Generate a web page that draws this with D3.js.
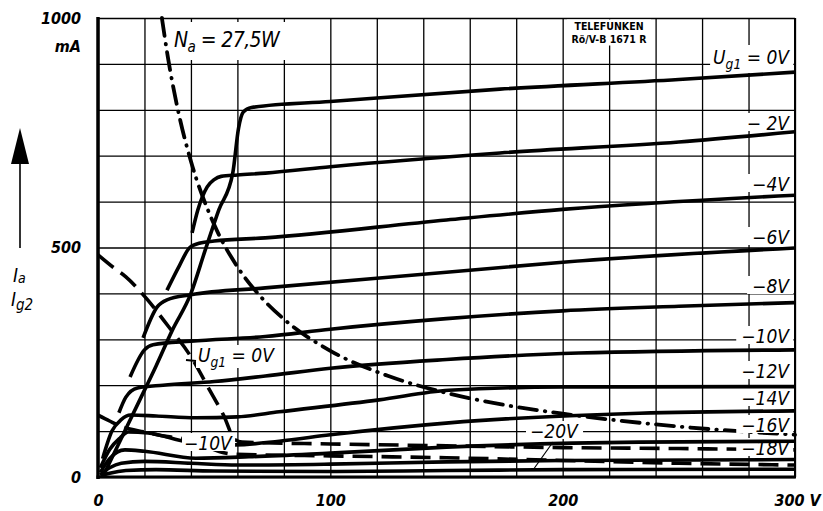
<!DOCTYPE html>
<html>
<head>
<meta charset="utf-8">
<script src="https://cdn.jsdelivr.net/npm/d3@7"></script>
<style>
  html, body { margin: 0; padding: 0; background: #fff; }
  svg { display: block; }
  text { font-family: 'DejaVu Sans Condensed', 'DejaVu Sans', sans-serif; font-style: italic; fill: #000; }
</style>
</head>
<body>
<svg id="chart" width="823" height="511"></svg>
<script>
// Ia / Ig2 = f(Ua). [Ua in V, I in mA]
const voltTicks = [0, 100, 200, 300];
const currTicks = [0, 500, 1000];

const ia0 = [[2,0],[10,84],[18,168],[25,242],[32,320],[40,400],[46,492],[52,582],[58,662],[60.5,760],[62.5,795],[66,805],[100,818],[173,845],[250,866],[300,882]];
const ia2 = [[40.5,532],[43,582],[47,632],[50,648],[53,655],[60,658],[72,662],[100,676],[173,706],[250,730],[300,752]];
const ia4 = [[29.7,407],[35,460],[39.5,500],[44,510],[50,514],[72,521],[150,560],[200,583],[300,614]];
const ia6 = [[19.4,303],[25.4,370],[29.7,386],[40,397],[72,412],[150,446],[200,468],[300,499]];
const ia8 = [[13.8,218],[20,277],[23.7,288],[40,296],[72,306],[100,322],[150,345],[200,362],[250,372],[300,380]];
const ia10 = [[9,140],[12,174],[17,194],[28,200],[50,208],[72,220],[100,237],[150,256],[207,270],[300,277]];
const ia12 = [[2,40],[6,100],[10,125],[14,135],[25,133],[42,129],[60,131],[78,142],[121,168],[151,189],[200,196],[300,197]];
const ia14 = [[1,20],[5,60],[9.5,85],[13,98],[21.5,96],[39,76],[59,70],[78,78],[100,92],[151,118],[233,139],[300,144]];
const ia16 = [[1,10],[5,40],[11.6,59],[20,56],[42,41],[65,44],[100,52],[150,65],[233,76],[300,78]];
const ia18 = [[1,5],[5,20],[10,30],[20,34],[40,30],[60,26],[100,28],[150,33],[200,36],[300,38]];
const ia20 = [[1,2],[5,8],[12,14],[25,16],[50,13],[100,12],[150,14],[200,16],[300,17]];

const ig2_0 = [[0,484],[7,455],[12,436],[21,388],[30,330],[40,262],[48,190],[54,135],[59,81],[62,76],[100,72],[150,68],[200,64],[250,62],[300,59]];
const ig2_10 = [[0,135],[5,122],[10,110],[20,98],[30,88],[36,84],[58,50],[100,46],[150,42],[200,36],[250,30],[300,26]];

// Na = 27,5 W limit
const naLimit = [[27.5,1000],[30,917],[35,786],[40,688],[50,550],[60,458],[70,393],[80,344],[100,275],[125,220],[150,183],[175,157],[200,138],[250,110],[300,92]];

const svg = d3.select("#chart");
const x = d3.scaleLinear().domain([0, 300]).range([98, 795]);
const y = d3.scaleLinear().domain([0, 1000]).range([477, 18]);

const gridG = svg.append("g");
const dashG = svg.append("g");
const maskG = svg.append("g");
const curveG = svg.append("g");
const innerMaskG = svg.append("g");
const labelG = svg.append("g");

// grid
gridG.append("g")
  .attr("transform", `translate(0,${y(0)})`)
  .call(d3.axisBottom(x).tickValues(d3.range(0, 301, 20)).tickSize(-(y(0) - y(1000))).tickFormat(""))
  .call(g => g.select(".domain").remove())
  .selectAll("line").attr("stroke", "#000").attr("stroke-width", 1.3);
gridG.append("g")
  .attr("transform", `translate(${x(0)},0)`)
  .call(d3.axisLeft(y).tickValues(d3.range(0, 1001, 100)).tickSize(-(x(300) - x(0))).tickFormat(""))
  .call(g => g.select(".domain").remove())
  .selectAll("line").attr("stroke", "#000").attr("stroke-width", 1.3);

// frame
gridG.append("line").attr("x1", x(0)).attr("x2", x(0)).attr("y1", y(1000) - 1).attr("y2", y(0) + 2)
  .attr("stroke", "#000").attr("stroke-width", 3.5);
gridG.append("line").attr("x1", x(0) - 1.5).attr("x2", x(300) + 1).attr("y1", y(0)).attr("y2", y(0))
  .attr("stroke", "#000").attr("stroke-width", 3.2);
gridG.append("line").attr("x1", x(300)).attr("x2", x(300)).attr("y1", y(1000)).attr("y2", y(0))
  .attr("stroke", "#000").attr("stroke-width", 2);

// axis labels
const xAx = svg.append("g").attr("transform", `translate(0,${y(0)})`)
  .call(d3.axisBottom(x).tickValues(voltTicks).tickSize(0).tickPadding(18)
    .tickFormat(d => d === 300 ? "300 V" : d));
xAx.select(".domain").remove();
xAx.selectAll("text").attr("font-size", 16).attr("font-weight", "bold")
  .attr("dx", d => d === 300 ? 2 : 0);

const yAx = svg.append("g").attr("transform", `translate(${x(0)},0)`)
  .call(d3.axisLeft(y).tickValues(currTicks).tickSize(0).tickPadding(17).tickFormat(d3.format("d")));
yAx.select(".domain").remove();
yAx.selectAll("text").attr("font-size", 16).attr("font-weight", "bold");

labelG.append("text").attr("x", 81).attr("y", 52).attr("text-anchor", "end")
  .attr("font-size", 16).attr("font-weight", "bold").text("mA");

// arrow + quantity
labelG.append("path").attr("d", "M20,128 L29,164 L11,164 Z").attr("fill", "#000");
labelG.append("line").attr("x1", 20).attr("x2", 20).attr("y1", 163).attr("y2", 248)
  .attr("stroke", "#000").attr("stroke-width", 1.6);
const tIa = labelG.append("text").attr("x", 13).attr("y", 282).attr("font-size", 19);
tIa.append("tspan").text("I");
tIa.append("tspan").attr("font-size", 14).attr("dy", 1).text("a");
const tIg = labelG.append("text").attr("x", 11).attr("y", 306).attr("font-size", 19);
tIg.append("tspan").text("I");
tIg.append("tspan").attr("font-size", 15).attr("dy", 4).text("g2");

// curves
const line = d3.line().x(d => x(d[0])).y(d => y(d[1])).curve(d3.curveMonotoneX);
const solid = [ia0, ia2, ia4, ia6, ia8, ia10, ia12, ia14, ia16, ia18, ia20];
curveG.selectAll(".ia").data(solid).join("path").attr("class", "ia")
  .attr("d", line).attr("fill", "none").attr("stroke", "#000").attr("stroke-width", 3.6)
  .attr("stroke-linejoin", "round");

dashG.selectAll(".ig2").data([ig2_0, ig2_10]).join("path").attr("class", "ig2")
  .attr("d", line).attr("fill", "none").attr("stroke", "#000").attr("stroke-width", 3.6)
  .attr("stroke-dasharray", "20,9");

dashG.append("path").datum(naLimit).attr("d", line).attr("fill", "none")
  .attr("stroke", "#000").attr("stroke-width", 3.8).attr("stroke-linecap", "round")
  .attr("stroke-dasharray", "18,8,0.5,8");

// labels with white backing
function label(layer, mask, xPos, yPos, anchor, size, parts, pad) {
  const t = layer.append("text").attr("x", xPos).attr("y", yPos)
    .attr("text-anchor", anchor).attr("font-size", size);
  parts.forEach(p => {
    const s = t.append("tspan").text(p.t);
    if (p.sub) s.attr("font-size", size * 0.72).attr("dy", p.dy);
    if (p.up) s.attr("dy", p.up);
  });
  const b = t.node().getBBox();
  const pd = pad || [3, 1, 3, 1];
  mask.insert("rect").attr("x", b.x - pd[0]).attr("y", b.y - pd[1])
    .attr("width", b.width + pd[0] + pd[2]).attr("height", b.height + pd[1] + pd[3])
    .attr("fill", "#fff");
  return t;
}

const rightX = 789;
label(labelG, maskG, rightX, 64, "end", 19, [{t: "U"}, {t: "g1", sub: true, dy: 5}, {t: " = 0V", up: -5}]);
const rightTexts = [["− 2V", 130], ["−4V", 191], ["−6V", 244], ["−8V", 293], ["−10V", 343],
                    ["−12V", 378], ["−14V", 405], ["−16V", 432], ["−18V", 455]];
rightTexts.forEach(([s, yy]) => label(labelG, maskG, rightX, yy, "end", 19, [{t: s}], [5, -1, 3, -3]));

label(labelG, innerMaskG, 530, 438, "start", 19, [{t: "−20V"}], [4, -1, 4, -3]);
label(labelG, innerMaskG, 184, 450, "start", 19, [{t: "−10V"}], [2, -1, 2, -3]);
label(labelG, innerMaskG, 198, 362, "start", 19, [{t: "U"}, {t: "g1", sub: true, dy: 5}, {t: " = 0V", up: -5}], [2, -1, 2, -2]);

// leader lines
labelG.append("line").attr("x1", 553).attr("y1", 442).attr("x2", 533).attr("y2", 470)
  .attr("stroke", "#000").attr("stroke-width", 1.2);
labelG.append("line").attr("x1", 186).attr("y1", 360).attr("x2", 196).attr("y2", 361)
  .attr("stroke", "#000").attr("stroke-width", 2);

label(labelG, maskG, 174, 47, "start", 21, [{t: "N"}, {t: "a", sub: true, dy: 5}, {t: " = 27,5W", up: -5}], [2, 6, 8, 4])
  .attr("letter-spacing", -0.6);

// maker note
[["TELEFUNKEN", 30], ["Rö/V-B 1671 R", 43]].forEach(([s, yy]) => {
  labelG.append("text").attr("x", 609).attr("y", yy).attr("text-anchor", "middle")
    .style("font-style", "normal").style("font-family", "'DejaVu Sans Condensed', sans-serif")
    .attr("font-size", 10.5).attr("font-weight", "bold").text(s);
});
maskG.append("rect").attr("x", 567).attr("y", 19.5).attr("width", 84).attr("height", 26).attr("fill", "#fff");
</script>
</body>
</html>
